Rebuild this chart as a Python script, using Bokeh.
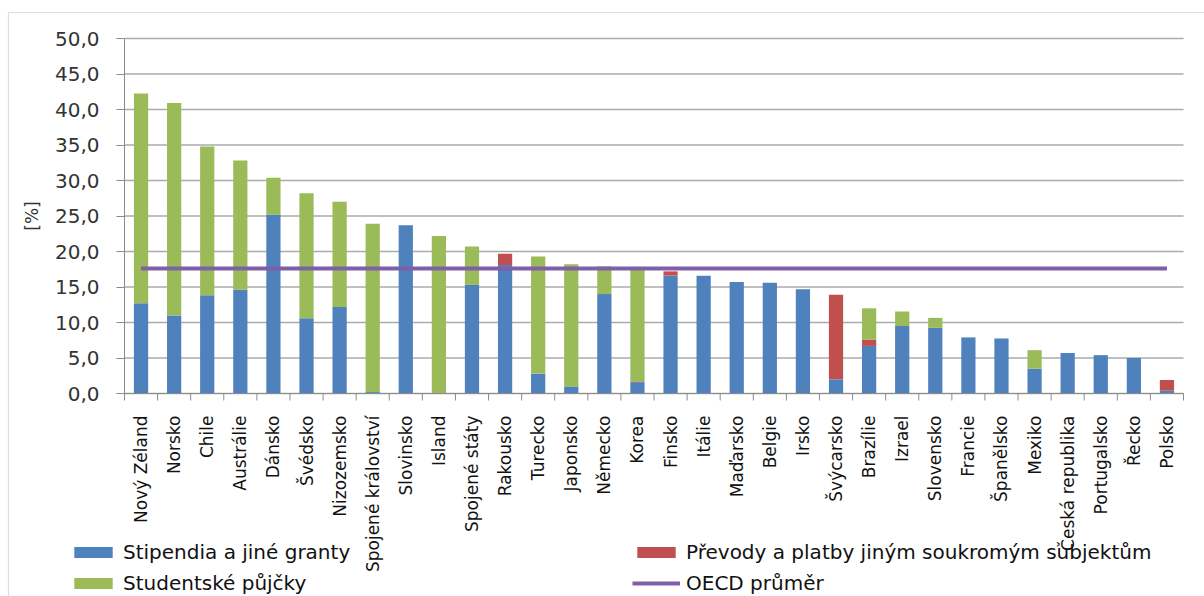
import math
from bokeh.plotting import figure
from bokeh.models import (ColumnDataSource, Range1d, LinearAxis, FixedTicker, Legend, LegendItem,
                          BoxAnnotation)
from bokeh.embed import file_html
from bokeh.resources import INLINE

countries = ["Nový Zéland", "Norsko", "Chile", "Austrálie", "Dánsko", "Švédsko", "Nizozemsko",
             "Spojené království", "Slovinsko", "Island", "Spojené státy", "Rakousko", "Turecko",
             "Japonsko", "Německo", "Korea", "Finsko", "Itálie", "Maďarsko", "Belgie", "Irsko",
             "Švýcarsko", "Brazílie", "Izrael", "Slovensko", "Francie", "Španělsko", "Mexiko",
             "Česká republika", "Portugalsko", "Řecko", "Polsko"]

stipendia = [12.7, 11.0, 13.85, 14.6, 25.2, 10.6, 12.2, 0.2, 23.7, 0.0, 15.3, 18.1, 2.8,
             1.0, 14.0, 1.6, 16.6, 16.6, 15.7, 15.6, 14.7,
             2.0, 6.7, 9.5, 9.25, 7.9, 7.75, 3.5, 5.7, 5.4, 5.0, 0.4]
prevody = [0.0, 0.0, 0.0, 0.0, 0.0, 0.0, 0.0, 0.0, 0.0, 0.0, 0.0, 1.6, 0.0,
           0.0, 0.0, 0.1, 0.6, 0.0, 0.0, 0.0, 0.0,
           11.9, 0.9, 0.0, 0.0, 0.0, 0.0, 0.0, 0.0, 0.0, 0.0, 1.5]
pujcky = [29.55, 29.9, 20.95, 18.2, 5.2, 17.6, 14.8, 23.7, 0.0, 22.2, 5.4, 0.0, 16.5,
          17.2, 3.9, 15.8, 0.0, 0.0, 0.0, 0.0, 0.0,
          0.0, 4.4, 2.05, 1.4, 0.0, 0.0, 2.6, 0.0, 0.0, 0.0, 0.0]
oecd_prumer = 17.6

y_ticks = [0, 5, 10, 15, 20, 25, 30, 35, 40, 45, 50]
y_tick_labels = ["0,0", "5,0", "10,0", "15,0", "20,0", "25,0", "30,0", "35,0", "40,0", "45,0", "50,0"]

BLUE = "#4F81BD"
RED = "#C0504D"
GREEN = "#9BBB59"
PURPLE = "#7F5FA8"
GRID = "#ABABAB"
AXIS = "#8C8C8C"
FONT = "DejaVu Sans"

# layout (pixels inside the figure)
W, H = 1204, 596
PLOT_L, PLOT_R, PLOT_T, PLOT_B = 124, 1183, 38, 393

n = len(countries)
y_max = y_ticks[-1]
px_x = (PLOT_R - PLOT_L) / n
px_y = (PLOT_B - PLOT_T) / y_max

x_pos = [i + 0.5 for i in range(n)]
bounds_x = list(range(n + 1))

src = ColumnDataSource(dict(x=x_pos, country=countries, stipendia=stipendia,
                            prevody=prevody, pujcky=pujcky))

p = figure(width=W, height=H,
           x_range=Range1d(-PLOT_L / px_x, n + (W - PLOT_R) / px_x),
           y_range=Range1d(-(H - PLOT_B) / px_y, y_max + PLOT_T / px_y),
           output_backend="svg", toolbar_location=None,
           x_axis_location=None, y_axis_location=None,
           min_border_left=0, min_border_right=0, min_border_top=0, min_border_bottom=0,
           background_fill_color="white", border_fill_color="white", outline_line_color=None)
p.xgrid.visible = False
p.ygrid.visible = False

# outer chart border (left and top edges visible)
p.add_layout(BoxAnnotation(left=8, right=W + 20, top=12, bottom=H + 20,
                           left_units="canvas", right_units="canvas",
                           top_units="canvas", bottom_units="canvas",
                           fill_alpha=0, line_color="#8F8F8F", line_width=1.2))

# horizontal gridlines
p.segment(x0=0, x1=n, y0=y_ticks, y1=y_ticks, line_color=GRID, line_width=1.5)

bars = p.vbar_stack(["stipendia", "prevody", "pujcky"], x="x", width=0.43,
                    fill_color=[BLUE, RED, GREEN], line_color=None, source=src)
oecd_line = p.line(x=x_pos, y=[oecd_prumer] * n, line_color=PURPLE, line_width=4)

# category boundary tick marks below the x axis
p.segment(x0=bounds_x, x1=bounds_x, y0=0, y1=-7 / px_y, line_color=AXIS, line_width=1)

# y axis
ya = LinearAxis(fixed_location=0, bounds=(0, y_max),
                ticker=FixedTicker(ticks=y_ticks, minor_ticks=[]),
                major_label_overrides=dict(zip(y_ticks, y_tick_labels)),
                axis_line_color=AXIS, major_tick_line_color=AXIS,
                major_tick_out=8, major_tick_in=0, minor_tick_line_color=None,
                major_label_standoff=17, major_label_text_font=FONT,
                major_label_text_font_size="20px", major_label_text_color="#333333",
                axis_label="[%]", axis_label_text_font=FONT, axis_label_text_font_size="17px",
                axis_label_text_font_style="normal", axis_label_text_color="#333333",
                axis_label_standoff=10)
p.add_layout(ya, "left")

# x axis with category labels
xa = LinearAxis(fixed_location=0, bounds=(0, n),
                ticker=FixedTicker(ticks=x_pos, minor_ticks=[]),
                major_label_overrides=dict(zip(x_pos, countries)),
                axis_line_color=AXIS, major_tick_line_color=None, minor_tick_line_color=None,
                major_tick_out=0, major_tick_in=0,
                major_label_orientation=math.pi / 2, major_label_standoff=22,
                major_label_text_font=FONT, major_label_text_font_size="17px",
                major_label_text_color="#111111")
p.add_layout(xa, "below")

legend = Legend(items=[
    LegendItem(label="Stipendia a jiné granty", renderers=[bars[0]]),
    LegendItem(label="Studentské půjčky", renderers=[bars[2]]),
    LegendItem(label="Převody a platby jiným soukromým subjektům", renderers=[bars[1]]),
    LegendItem(label="OECD průměr", renderers=[oecd_line]),
], location=(69, 1), orientation="vertical", nrows=2,
    glyph_width=48, glyph_height=14, label_width=502, label_height=20,
    label_standoff=6, spacing=7, padding=0, margin=0,
    border_line_color=None, background_fill_alpha=0,
    label_text_font=FONT, label_text_font_size="20px", label_text_color="#111111")
p.add_layout(legend, "center")

open("out.html", "w").write(file_html(p, INLINE))
